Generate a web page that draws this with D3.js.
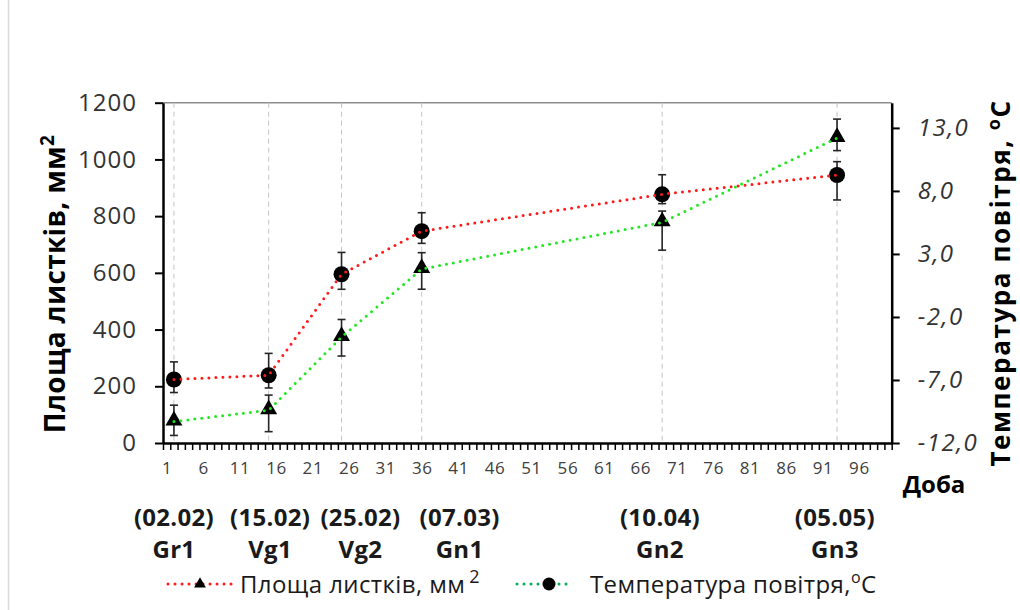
<!DOCTYPE html>
<html>
<head>
<meta charset="utf-8">
<script src="https://cdn.jsdelivr.net/npm/d3@7"></script>
<style>
  body { margin: 0; background: #fff; }
  svg text { font-family: "Open Sans", "Noto Sans", sans-serif; }
</style>
</head>
<body>
<div id="chart"></div>
<script>
// days after 31.01 and labels of the phenological stages
const days = [2, 15, 25, 36, 69, 93];
const dateLabels = ["(02.02)", "(15.02)", "(25.02)", "(07.03)", "(10.04)", "(05.05)"];
const phaseLabels = ["Gr1", "Vg1", "Vg2", "Gn1", "Gn2", "Gn3"];
// where the two label rows sit (in days)
const labelDays = [2, 15.2, 27.6, 41.2, 68.7, 92.7];

// leaf area, mm2 (left axis)
const leafArea = [224, 239, 595, 747, 877, 945];
const leafErrUp = [62, 77, 77, 65, 69, 47];
const leafErrDown = [46, 45, 53, 43, 33, 88];

// air temperature, C (right axis)
const airTemp = [-10.3, -9.4, -3.6, 1.8, 5.5, 12.2];
const tempErrUp = [1.3, 1.2, 1.4, 1.3, 0.9, 1.5];
const tempErrDown = [1.1, 1.7, 1.5, 1.6, 2.2, 1.0];

const leftTicks = [0, 200, 400, 600, 800, 1000, 1200];
const rightTicks = [-12, -7, -2, 3, 8, 13];
const dayTicks = d3.range(1, 97, 5);

const width = 1020, height = 610;
const plot = {left: 163, right: 891.7, top: 102.7, bottom: 443};

const svg = d3.select("#chart").append("svg")
    .attr("width", width)
    .attr("height", height);

// outer frame (only left edge shows in the picture)
svg.append("line")
    .attr("x1", 8.5).attr("x2", 8.5).attr("y1", 0).attr("y2", height)
    .attr("stroke", "#d9d9d9").attr("stroke-width", 1.5);

const x = d3.scaleLinear().domain([0.5, 100.5]).range([plot.left, plot.right]);
const yL = d3.scaleLinear().domain([0, 1200]).range([plot.bottom, plot.top]);
const yR = d3.scaleLinear().domain([-12, 15]).range([plot.bottom, plot.top]);

const rows = days.map((d, i) => ({
    day: d,
    leaf: leafArea[i], leafUp: leafErrUp[i], leafDown: leafErrDown[i],
    temp: airTemp[i], tempUp: tempErrUp[i], tempDown: tempErrDown[i]
}));

// top border of the plot area
svg.append("line")
    .attr("x1", plot.left).attr("x2", plot.right)
    .attr("y1", plot.top).attr("y2", plot.top)
    .attr("stroke", "#8c8c8c").attr("stroke-width", 1.5);

// dashed drop lines
svg.append("g")
    .selectAll("line")
    .data(days)
    .join("line")
        .attr("x1", d => x(d)).attr("x2", d => x(d))
        .attr("y1", plot.top).attr("y2", plot.bottom)
        .attr("stroke", "#c4c4c4")
        .attr("stroke-width", 1)
        .attr("stroke-dasharray", "5,4");

// axes
const minorAxis = d3.axisBottom(x)
    .tickValues(d3.range(0.5, 100.6, 1))
    .tickSize(7)
    .tickSizeOuter(0)
    .tickFormat("");
const xAxisG = svg.append("g")
    .attr("transform", `translate(0,${plot.bottom})`)
    .call(minorAxis);
xAxisG.select(".domain").attr("stroke-width", 2.5);
xAxisG.selectAll(".tick line").attr("stroke-width", 1.5);

const labelAxis = d3.axisBottom(x)
    .tickValues(dayTicks)
    .tickSize(0)
    .tickPadding(19)
    .tickFormat(d3.format("d"));
const xLabG = svg.append("g")
    .attr("transform", `translate(0,${plot.bottom})`)
    .call(labelAxis);
xLabG.select(".domain").remove();
xLabG.selectAll("text")
    .attr("font-size", 17)
    .attr("letter-spacing", 0.6)
    .attr("fill", "#404040")
    .style("font-family", "'Open Sans', sans-serif");

const leftAxis = d3.axisLeft(yL)
    .tickValues(leftTicks)
    .tickSize(8)
    .tickSizeOuter(0)
    .tickPadding(18)
    .tickFormat(d3.format("d"));
const yLG = svg.append("g")
    .attr("transform", `translate(${plot.left},0)`)
    .call(leftAxis);
yLG.select(".domain").attr("stroke-width", 2.5);
yLG.selectAll(".tick line").attr("stroke-width", 2);
yLG.selectAll("text")
    .attr("font-size", 24)
    .attr("letter-spacing", 1)
    .attr("fill", "#333")
    .style("font-family", "'Open Sans', sans-serif");

const rightAxis = d3.axisRight(yR)
    .tickValues(rightTicks)
    .tickSize(8)
    .tickSizeOuter(0)
    .tickPadding(18)
    .tickFormat(d => d3.format(".1f")(d).replace("−", "-").replace(".", ","));
const yRG = svg.append("g")
    .attr("transform", `translate(${plot.right},0)`)
    .call(rightAxis);
yRG.select(".domain").attr("stroke-width", 2.5);
yRG.selectAll(".tick line").attr("stroke-width", 2);
yRG.selectAll("text")
    .attr("font-size", 24)
    .attr("letter-spacing", 1.5)
    .attr("font-style", "italic")
    .attr("fill", "#333")
    .style("font-family", "'Open Sans', sans-serif");

// error bars
function errorBars(cls, y, val, up, down) {
    const g = svg.append("g").attr("class", cls)
        .attr("stroke", "#262626").attr("stroke-width", 1.6);
    g.selectAll("line.v").data(rows).join("line").attr("class", "v")
        .attr("x1", d => x(d.day)).attr("x2", d => x(d.day))
        .attr("y1", d => y(d[val] + d[up])).attr("y2", d => y(d[val] - d[down]));
    g.selectAll("line.t").data(rows).join("line").attr("class", "t")
        .attr("x1", d => x(d.day) - 4).attr("x2", d => x(d.day) + 4)
        .attr("y1", d => y(d[val] + d[up])).attr("y2", d => y(d[val] + d[up]));
    g.selectAll("line.b").data(rows).join("line").attr("class", "b")
        .attr("x1", d => x(d.day) - 4).attr("x2", d => x(d.day) + 4)
        .attr("y1", d => y(d[val] - d[down])).attr("y2", d => y(d[val] - d[down]));
}
errorBars("err-leaf", yL, "leaf", "leafUp", "leafDown");
errorBars("err-temp", yR, "temp", "tempUp", "tempDown");

// markers
svg.append("g")
    .selectAll("circle")
    .data(rows)
    .join("circle")
        .attr("cx", d => x(d.day))
        .attr("cy", d => yL(d.leaf))
        .attr("r", 8)
        .attr("fill", "#000");

const tri = d3.symbol(d3.symbolTriangle, 125);
svg.append("g")
    .selectAll("path")
    .data(rows)
    .join("path")
        .attr("d", tri)
        .attr("transform", d => `translate(${x(d.day)},${yR(d.temp) - 1})`)
        .attr("fill", "#000");

// dotted lines (drawn over markers as in the picture)
const leafLine = d3.line().x(d => x(d.day)).y(d => yL(d.leaf));
const tempLine = d3.line().x(d => x(d.day)).y(d => yR(d.temp));

svg.append("path")
    .datum(rows)
    .attr("d", tempLine)
    .attr("fill", "none")
    .attr("stroke", "#22e622")
    .attr("stroke-width", 3)
    .attr("stroke-linecap", "round")
    .attr("stroke-dasharray", "0,7");

svg.append("path")
    .datum(rows)
    .attr("d", leafLine)
    .attr("fill", "none")
    .attr("stroke", "#ff1a1a")
    .attr("stroke-width", 3)
    .attr("stroke-linecap", "round")
    .attr("stroke-dasharray", "0,7");

// axis titles
svg.append("text")
    .attr("transform", "translate(65,284) rotate(-90)")
    .attr("text-anchor", "middle")
    .attr("font-size", 28)
    .attr("font-weight", "bold")
    .attr("letter-spacing", 0.3)
    .attr("fill", "#000")
    .text("Площа листків,  мм")
    .append("tspan")
        .attr("dy", -11)
        .attr("font-size", 19)
        .text("2");

svg.append("text")
    .attr("transform", "translate(1010,283) rotate(-90)")
    .attr("text-anchor", "middle")
    .attr("font-size", 26)
    .attr("font-weight", "bold")
    .attr("letter-spacing", 1.6)
    .attr("fill", "#000")
    .text("Температура повітря, ")
    .call(t => t.append("tspan").attr("dy", -10).attr("font-size", 18).text("о"))
    .call(t => t.append("tspan").attr("dy", 10).text("С"));

svg.append("text")
    .attr("x", 934).attr("y", 493)
    .attr("text-anchor", "middle")
    .attr("font-size", 24)
    .attr("font-weight", "bold")
    .text("Доба");

// stage labels under the axis
const stageG = svg.append("g")
    .attr("font-size", 24)
    .attr("font-weight", "bold")
    .attr("text-anchor", "middle")
    .attr("letter-spacing", 0.3)
    .attr("fill", "#1a1a1a");
stageG.selectAll("text.date")
    .data(labelDays)
    .join("text").attr("class", "date")
        .attr("x", d => x(d))
        .attr("y", 526)
        .text((d, i) => dateLabels[i]);
stageG.selectAll("text.phase")
    .data(labelDays)
    .join("text").attr("class", "phase")
        .attr("x", d => x(d))
        .attr("y", 558)
        .text((d, i) => phaseLabels[i]);

// legend
const legend = svg.append("g").attr("transform", "translate(0,584)");
legend.append("line")
    .attr("x1", 168).attr("x2", 232).attr("y1", 0).attr("y2", 0)
    .attr("stroke", "#ff1a1a").attr("stroke-width", 3)
    .attr("stroke-linecap", "round").attr("stroke-dasharray", "0,7");
legend.append("path")
    .attr("d", d3.symbol(d3.symbolTriangle, 60))
    .attr("transform", "translate(200,0)")
    .attr("fill", "#000");
legend.append("text")
    .attr("x", 240).attr("y", 9)
    .attr("font-size", 24)
    .attr("letter-spacing", 0.4)
    .attr("fill", "#1a1a1a")
    .text("Площа листків, мм")
    .append("tspan").attr("dx", 4).attr("dy", -10).attr("font-size", 18).text("2");

legend.append("line")
    .attr("x1", 517).attr("x2", 567).attr("y1", 0).attr("y2", 0)
    .attr("stroke", "#00b050").attr("stroke-width", 3)
    .attr("stroke-linecap", "round").attr("stroke-dasharray", "0,7");
legend.append("circle")
    .attr("cx", 549).attr("cy", 0).attr("r", 6.5)
    .attr("fill", "#000");
legend.append("text")
    .attr("x", 590).attr("y", 9)
    .attr("font-size", 24)
    .attr("letter-spacing", 0.4)
    .attr("fill", "#1a1a1a")
    .text("Температура повітря,")
    .call(t => t.append("tspan").attr("dy", -10).attr("font-size", 16).text("о"))
    .call(t => t.append("tspan").attr("dy", 10).text("С"));
</script>
</body>
</html>
